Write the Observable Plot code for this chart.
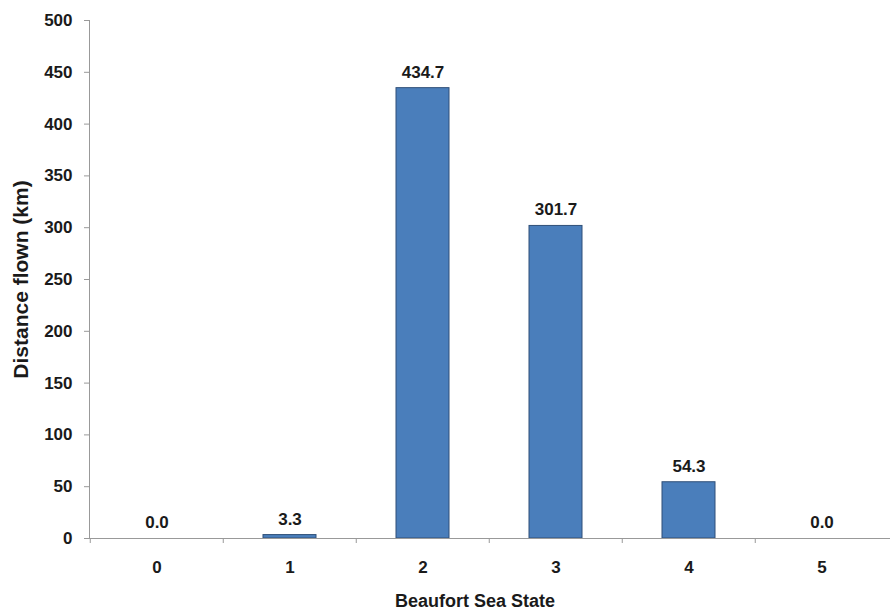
<!DOCTYPE html>
<html>
<head>
<meta charset="utf-8">
<script src="https://cdn.jsdelivr.net/npm/d3@7"></script>
<script src="https://cdn.jsdelivr.net/npm/@observablehq/plot@0.6"></script>
<style>
  html, body { margin: 0; padding: 0; background: #fff; }
  #chart svg { display: block; }
</style>
</head>
<body>
<div id="chart"></div>
<script>
const seaStates = ["0", "1", "2", "3", "4", "5"];
const distances = [0.0, 3.3, 434.7, 301.7, 54.3, 0.0];
const yTicks = [0, 50, 100, 150, 200, 250, 300, 350, 400, 450, 500];
const xTitle = "Beaufort Sea State";
const yTitle = "Distance flown (km)";

const data = seaStates.map((s, i) => ({state: s, km: distances[i]}));

const W = 890, H = 613, mL = 89, mR = 0, mT = 20, mB = 75;
const pInner = 0.6, pOuter = 0.3;
const step = (W - mL - mR) / (seaStates.length - pInner + 2 * pOuter);

const chart = Plot.plot({
  width: W,
  height: H,
  marginTop: mT,
  marginBottom: mB,
  marginLeft: mL,
  marginRight: mR,
  style: {fontFamily: "'Liberation Sans', Arial, sans-serif", fontWeight: "bold", fontSize: "17px", color: "#1a1a1a", background: "#fff"},
  x: {domain: seaStates, paddingInner: pInner, paddingOuter: pOuter, label: null},
  y: {domain: [0, 500], label: null},
  marks: [
    Plot.barY(data, {x: "state", y: "km", fill: "#4a7ebb", stroke: "#2f4f78", strokeWidth: 1}),
    Plot.text(data, {x: "state", y: "km", text: d => d.km.toFixed(1), dy: -16, fontSize: 17, fontWeight: "bold", fill: "#1a1a1a"}),
    Plot.ruleY([0], {stroke: "#999"}),
    Plot.axisY({ticks: yTicks, tickSize: 5, tickPadding: 12, stroke: "#999", fill: "#1a1a1a", fontSize: 17, label: null}),
    Plot.axisY({ticks: [], tickSize: 0, fill: "#1a1a1a", fontSize: 21, fontWeight: "bold",
      label: yTitle, labelAnchor: "center", labelArrow: "none", labelOffset: 76}),
    Plot.axisX({tickSize: 0, tickPadding: 22, fill: "#1a1a1a", fontSize: 17, label: null}),
    Plot.text([xTitle], {frameAnchor: "bottom", dx: -15, dy: 68, fontSize: 18, fontWeight: "bold", fill: "#1a1a1a"}),
    Plot.axisX({tickSize: 5, text: null, stroke: "#999", dx: -step / 2, label: null}),
    () => {
      const ns = "http://www.w3.org/2000/svg";
      const line = document.createElementNS(ns, "line");
      line.setAttribute("x1", mL + 0.5); line.setAttribute("x2", mL + 0.5);
      line.setAttribute("y1", mT); line.setAttribute("y2", H - mB);
      line.setAttribute("stroke", "#999");
      return line;
    }
  ]
});

document.getElementById("chart").appendChild(chart);
</script>
</body>
</html>
